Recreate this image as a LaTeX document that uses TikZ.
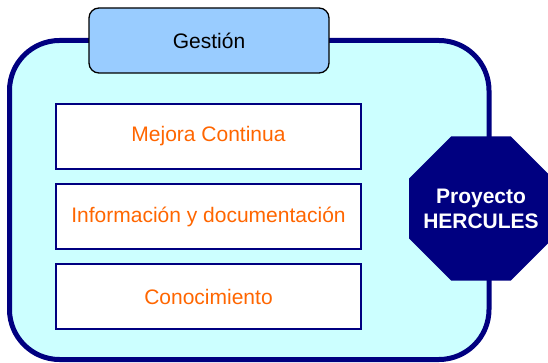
\documentclass[tikz,border=0pt]{standalone}
\usepackage{fontspec}
\setmainfont{Liberation Sans}
\definecolor{navy}{RGB}{0,0,128}
\definecolor{paleCyan}{RGB}{204,255,255}
\definecolor{tabBlue}{RGB}{153,204,255}
\definecolor{orangeText}{RGB}{255,102,0}
\tikzset{
  outerbox/.style={draw=navy, line width=5pt, fill=paleCyan, rounded corners=50pt},
  tabbox/.style={draw=black, line width=1.3pt, fill=tabBlue, rounded corners=10pt,
    minimum width=240pt, minimum height=65pt, inner sep=0pt,
    font=\fontsize{21}{25}\selectfont, text=black},
  itembox/.style={draw=navy, line width=2pt, fill=white,
    minimum width=305pt, minimum height=65pt, inner sep=0pt,
    font=\fontsize{21}{25}\selectfont, text=orangeText},
  octotext/.style={inner sep=0pt, text=white, align=center,
    font=\bfseries\fontsize{21}{25}\selectfont},
  octofill/.style={fill=navy, draw=none}
}
\begin{document}
\begin{tikzpicture}[x=1pt,y=-1pt]
\useasboundingbox (0,0) rectangle (548,363);
\draw[outerbox] (9.5,40.5) rectangle (489,359.5);
\node[tabbox] (gestion) at (209,40.5) {Gestión};
\node[itembox] (mejora) at (208.5,136.5) {Mejora Continua};
\node[itembox] (info) at (208.5,216.5) {Información y documentación};
\node[itembox] (cono) at (208.5,296.5) {Conocimiento};
\coordinate (oc) at (481,208.5);
\fill[octofill] ([shift={(-29.8pt,-72pt)}]oc) -- ([shift={(29.8pt,-72pt)}]oc)
  -- ([shift={(72pt,-29.8pt)}]oc) -- ([shift={(72pt,29.8pt)}]oc)
  -- ([shift={(29.8pt,72pt)}]oc) -- ([shift={(-29.8pt,72pt)}]oc)
  -- ([shift={(-72pt,29.8pt)}]oc) -- ([shift={(-72pt,-29.8pt)}]oc) -- cycle;
\node[octotext] (hercules) at (oc) {Proyecto\\HERCULES};
\end{tikzpicture}
\end{document}
